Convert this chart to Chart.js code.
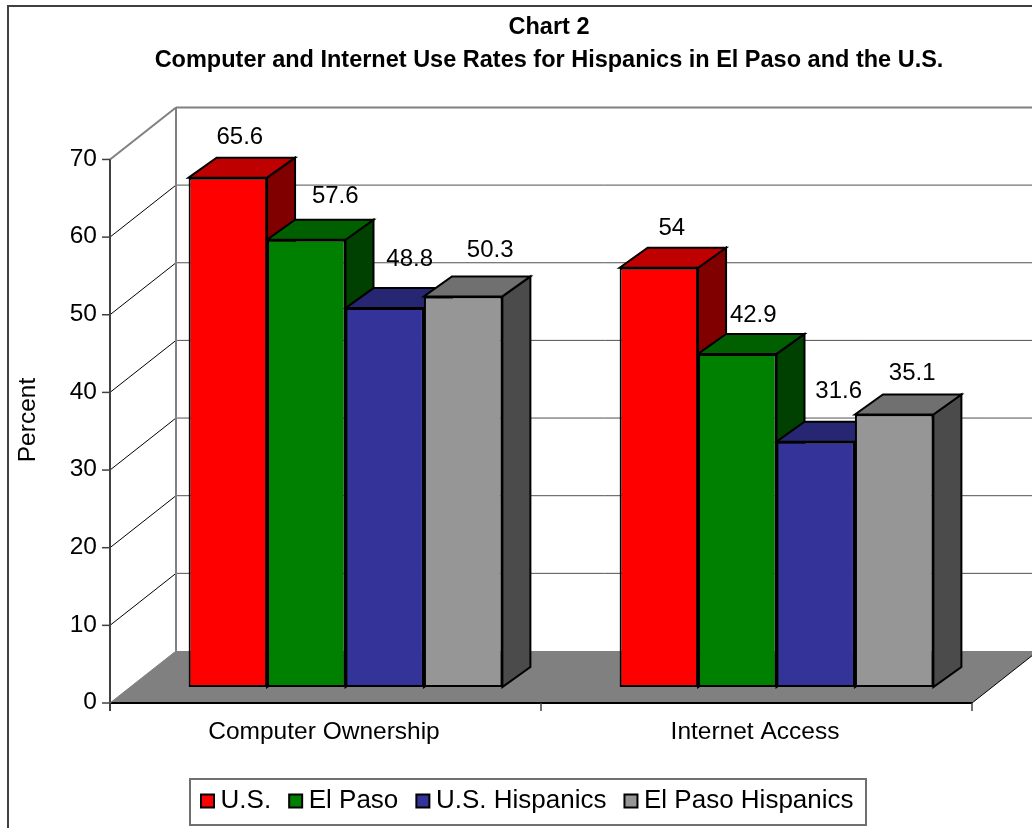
<!DOCTYPE html>
<html>
<head>
<meta charset="utf-8">
<title>Chart 2</title>
<script src="https://cdn.jsdelivr.net/npm/chart.js@4/dist/chart.umd.min.js"></script>
<style>
  html, body { margin: 0; padding: 0; background: #fff; }
  canvas { display: block; }
</style>
</head>
<body>
<canvas id="chart2" width="1032" height="828"></canvas>
<script>
/* ---------- Data ---------- */
const categories = ["Computer Ownership", "Internet Access"];
const usValues = [65.6, 54];
const elPasoValues = [57.6, 42.9];
const usHispanicValues = [48.8, 31.6];
const elPasoHispanicValues = [50.3, 35.1];
const yTicks = [0, 10, 20, 30, 40, 50, 60, 70];

/* ---------- Styles ---------- */
const FONT = "'Liberation Sans', Arial, sans-serif";
const FRONT = { dx: -20, dy: 16 };    // axis plane, relative to bar fronts
const BACK = { dx: 46, dy: -36 };     // back wall, relative to bar fronts
const DEPTH = { dx: 28, dy: -20 };    // depth of one bar
const topColors = ["#bf0000", "#006000", "#262673", "#707070"];
const sideColors = ["#800000", "#004000", "#1a1a4d", "#4b4b4b"];
// where each value label sits, relative to the middle of its bar top
const labelNudge = [
  [[12, -40], [29, -43], [25, -49], [27, -46]],
  [[13, -39], [16, -39], [23, -50], [18, -41]]
];

function line(ctx, x1, y1, x2, y2, color, width) {
  ctx.strokeStyle = color;
  ctx.lineWidth = width;
  ctx.beginPath();
  ctx.moveTo(x1, y1);
  ctx.lineTo(x2, y2);
  ctx.stroke();
}

function face(ctx, pts, fill) {
  ctx.fillStyle = fill;
  ctx.strokeStyle = "#000";
  ctx.lineWidth = 2;
  ctx.lineJoin = "miter";
  ctx.beginPath();
  pts.forEach(function (p, i) { i ? ctx.lineTo(p[0], p[1]) : ctx.moveTo(p[0], p[1]); });
  ctx.closePath();
  ctx.fill();
  ctx.stroke();
}

/* ---------- 3D walls, floor, bar depth, labels ---------- */
const chart3d = {
  id: "chart3d",
  afterLayout: function (chart) {
    // the title and legend of the original are not centred on the canvas
    chart.titleBlock.left += 53;
    chart.titleBlock.right += 53;
    chart.legend.left += 34.5;
    chart.legend.right += 34.5;
  },
  beforeDraw: function (chart) {
    const ctx = chart.ctx;
    ctx.save();
    ctx.fillStyle = "#fff";
    ctx.fillRect(0, 0, chart.width, chart.height);
    line(ctx, 8, 6, 8, chart.height, "#404040", 2);
    line(ctx, 7, 6, chart.width, 6, "#404040", 2);
    ctx.restore();
  },
  beforeDatasetsDraw: function (chart) {
    const ctx = chart.ctx, x = chart.scales.x, y = chart.scales.y;
    const left = x.left, right = x.right, zero = y.getPixelForValue(0);
    ctx.save();

    // floor
    ctx.fillStyle = "#808080";
    ctx.beginPath();
    ctx.moveTo(left + FRONT.dx, zero + FRONT.dy);
    ctx.lineTo(right + FRONT.dx, zero + FRONT.dy);
    ctx.lineTo(right + BACK.dx, zero + BACK.dy);
    ctx.lineTo(left + BACK.dx, zero + BACK.dy);
    ctx.closePath();
    ctx.fill();

    // gridlines on the back wall and the left wall
    yTicks.forEach(function (v) {
      const py = y.getPixelForValue(v);
      if (v > 0) {
        const last = v === yTicks[yTicks.length - 1];
        line(ctx, left + BACK.dx, py + BACK.dy, right + BACK.dx, py + BACK.dy, last ? "#808080" : "#505050", last ? 2 : 1);
        line(ctx, left + FRONT.dx, py + FRONT.dy, left + BACK.dx, py + BACK.dy, last ? "#808080" : "#000", last ? 2 : 1);
      }
      line(ctx, left + FRONT.dx - 8, py + FRONT.dy, left + FRONT.dx, py + FRONT.dy, "#404040", 1.5);
    });

    // wall edges and axis lines
    line(ctx, left + BACK.dx, y.getPixelForValue(70) + BACK.dy, left + BACK.dx, zero + BACK.dy, "#808080", 2);
    line(ctx, left + FRONT.dx, y.getPixelForValue(70) + FRONT.dy, left + FRONT.dx, zero + FRONT.dy + 8, "#404040", 2);
    line(ctx, left + FRONT.dx, zero + FRONT.dy, right + FRONT.dx, zero + FRONT.dy, "#000", 2);
    line(ctx, left + FRONT.dx, zero + FRONT.dy, left + BACK.dx, zero + BACK.dy, "#808080", 1);
    line(ctx, right + FRONT.dx, zero + FRONT.dy, right + BACK.dx, zero + BACK.dy, "#000", 1);
    [0, 1, 2].forEach(function (i) {
      const px = left + FRONT.dx + (right - left) * i / 2;
      line(ctx, px, zero + FRONT.dy, px, zero + FRONT.dy + 8, "#404040", 1.5);
    });

    // side and top of each bar, left to right; the library paints the fronts after this
    categories.forEach(function (c, ci) {
      chart.data.datasets.forEach(function (ds, di) {
        const bar = chart.getDatasetMeta(di).data[ci];
        const l = bar.x - bar.width / 2, r = bar.x + bar.width / 2;
        face(ctx, [[r, bar.y], [r + DEPTH.dx, bar.y + DEPTH.dy], [r + DEPTH.dx, bar.base + DEPTH.dy], [r, bar.base]], sideColors[di]);
        face(ctx, [[l, bar.y], [l + DEPTH.dx, bar.y + DEPTH.dy], [r + DEPTH.dx, bar.y + DEPTH.dy], [r, bar.y]], topColors[di]);
      });
    });
    ctx.restore();
  },
  afterDatasetsDraw: function (chart) {
    const ctx = chart.ctx;
    ctx.save();
    ctx.font = "24px " + FONT;
    ctx.fillStyle = "#000";
    ctx.textAlign = "center";
    ctx.textBaseline = "middle";
    chart.data.datasets.forEach(function (ds, di) {
      chart.getDatasetMeta(di).data.forEach(function (bar, ci) {
        const n = labelNudge[ci][di];
        ctx.fillText(String(ds.data[ci]), bar.x + n[0], bar.y + n[1]);
      });
    });
    ctx.font = "24.5px " + FONT;
    ctx.translate(28.5, 420);
    ctx.rotate(-Math.PI / 2);
    ctx.fillText("Percent", 0, 0);
    ctx.restore();
  },
  afterDraw: function (chart) {
    const ctx = chart.ctx;
    ctx.save();
    ctx.strokeStyle = "#707070";
    ctx.lineWidth = 2;
    ctx.strokeRect(190, 779, 676, 46);
    ctx.restore();
  }
};

/* ---------- Chart ---------- */
function dataset(label, values, color) {
  return { label: label, data: values, backgroundColor: color, borderColor: "#000", borderWidth: 2, borderSkipped: false };
}

new Chart(document.getElementById("chart2").getContext("2d"), {
  type: "bar",
  data: {
    labels: categories,
    datasets: [
      dataset("U.S.", usValues, "#ff0000"),
      dataset("El Paso", elPasoValues, "#008000"),
      dataset("U.S. Hispanics", usHispanicValues, "#333399"),
      dataset("El Paso Hispanics", elPasoHispanicValues, "#969696")
    ]
  },
  plugins: [chart3d],
  options: {
    responsive: false,
    animation: false,
    events: [],
    layout: { autoPadding: false, padding: { left: 0, right: 40, top: 0, bottom: 4 } },
    datasets: { bar: { categoryPercentage: 0.728, barPercentage: 1 } },
    plugins: {
      tooltip: { enabled: false },
      title: {
        display: true,
        text: ["Chart 2", "Computer and Internet Use Rates for Hispanics in El Paso and the U.S."],
        color: "#000",
        font: { family: FONT, size: 23.5, weight: "bold", lineHeight: 1.38 },
        padding: { top: 11.5, bottom: 67.1 }
      },
      legend: {
        position: "bottom",
        labels: {
          color: "#000",
          font: { family: FONT, size: 26 },
          usePointStyle: true,
          pointStyle: "rect",
          boxWidth: 0.1,
          boxHeight: 13,
          padding: 24.5
        }
      }
    },
    scales: {
      x: {
        grid: { display: false },
        border: { display: false },
        afterFit: function (s) { s.height = 76.5; },
        ticks: { color: "#000", font: { family: FONT, size: 24.5 }, padding: 23, labelOffset: -21.5, maxRotation: 0 }
      },
      y: {
        min: 0,
        max: 70,
        grid: { display: false },
        border: { display: false },
        afterFit: function (s) { s.width = 130; },
        afterBuildTicks: function (s) { s.ticks = yTicks.map(function (v) { return { value: v }; }); },
        ticks: { color: "#000", font: { family: FONT, size: 24.5 }, padding: 25, labelOffset: 15.5 }
      }
    }
  }
});
</script>
</body>
</html>
